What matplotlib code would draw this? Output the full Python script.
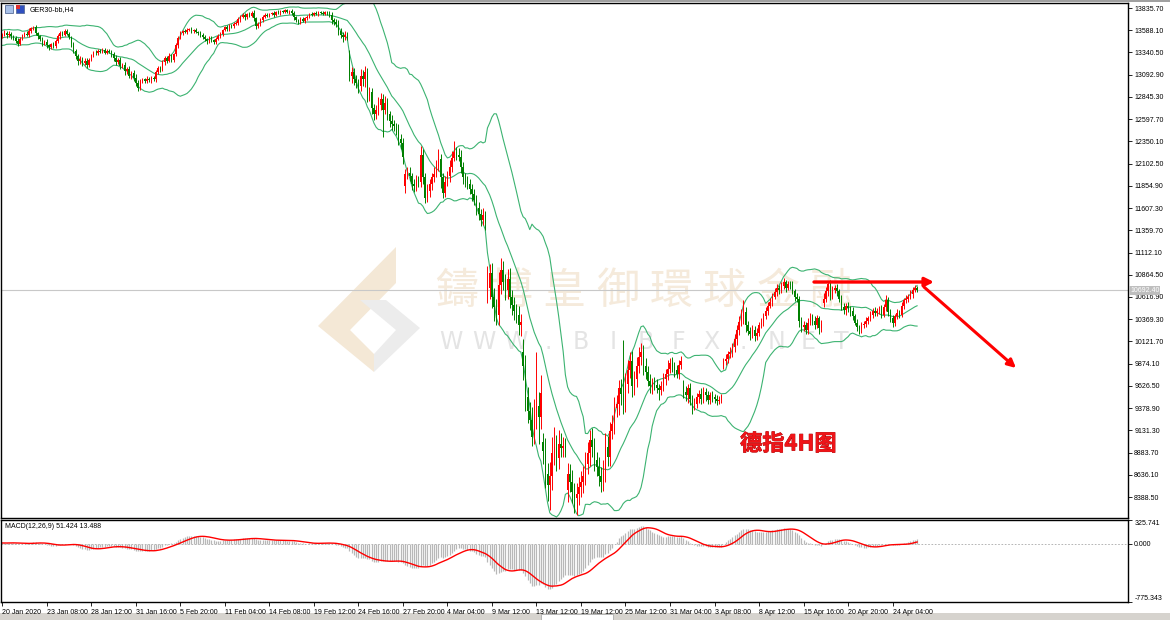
import numpy as np
import matplotlib
matplotlib.use("Agg")
import matplotlib.pyplot as plt
from matplotlib.patches import Polygon, Rectangle
import matplotlib.patheffects as pe

plt.rcParams['font.family'] = ['Liberation Sans', 'DejaVu Sans']

# ---- données (GER30, H4) ----
# historique avant le 20 janv. (sert seulement au calcul des indicateurs)
pre_close = [13400, 13450, 13380, 13420, 13480, 13520, 13470, 13440, 13500, 13560,
             13530, 13480, 13510, 13550, 13590, 13540, 13500, 13460, 13420, 13450,
             13490, 13530, 13510, 13480, 13520]

closes = [
    13540, 13560, 13530, 13550, 13520, 13500, 13470, 13440, 13490, 13530,
    13550, 13540, 13580, 13610, 13620, 13560, 13520, 13490, 13440, 13460,
    13420, 13400, 13430, 13410, 13470, 13520, 13560, 13540, 13580, 13550,
    13510, 13430, 13360, 13300, 13240, 13270, 13220, 13250, 13200, 13260,
    13310, 13340, 13330, 13360, 13350, 13370, 13340, 13360, 13350, 13320,
    13280, 13230, 13260, 13190, 13200, 13130, 13160, 13080, 13110, 13060,
    13000, 12950, 13020, 13040, 13020, 13050, 13030, 13060, 13040, 13120,
    13170, 13150, 13230, 13280, 13250, 13300, 13260, 13320, 13420, 13500,
    13560, 13580, 13570, 13590, 13600, 13580, 13590, 13570, 13560, 13540,
    13510, 13490, 13470, 13500, 13480, 13460, 13490, 13520, 13550, 13590,
    13620, 13600, 13640, 13630, 13660, 13670, 13710, 13740, 13760, 13730,
    13770, 13750, 13780, 13720, 13640, 13660, 13700, 13740, 13760, 13750,
    13770, 13780, 13760, 13790, 13780, 13800, 13790, 13810, 13790, 13800,
    13780, 13730, 13700, 13680, 13710, 13690, 13720, 13740, 13770, 13760,
    13780, 13770, 13790, 13780, 13770, 13790, 13780, 13760, 13700, 13680,
    13660, 13580, 13540, 13510, 13540, 13520, 13080, 13120, 13050, 13000,
    12970, 13080, 13040, 13120, 12850, 12900, 12720, 12650, 12700, 12760,
    12820, 12700, 12780, 12650, 12580, 12540, 12520, 12480, 12380, 12330,
    12180, 11990, 12000, 11960, 11880, 11850, 11920, 11900, 12200, 11950,
    11720, 11800, 11870, 11950, 11990, 12080, 12150, 11950, 11780, 11900,
    11960, 12060, 12170, 12230, 12200, 12180, 12060, 11950, 11900, 11870,
    11820, 11760, 11700, 11610, 11540, 11480, 11530, 11440, 10720, 10880,
    10620, 10500, 10420, 10750, 10920, 10780, 10700, 10820, 10620, 10530,
    10460, 10420, 10300, 10340, 9850, 9500, 9350, 9250, 9060, 9300,
    9400, 9280, 9550, 8900, 8650, 8520, 8620, 8880, 8950, 8820,
    8980, 8940, 8960, 8930, 8650, 8560, 8450, 8380, 8420, 8500,
    8560, 8620, 8760, 8880, 9020, 8950, 8800, 8720, 8620, 8560,
    8680, 8950, 8840, 9120, 9200, 9380, 9420, 9600, 9540, 9450,
    9650, 9800, 9900, 9620, 9700, 9850, 9950, 10000, 9850, 9780,
    9680, 9620, 9660, 9640, 9600, 9580, 9620, 9700, 9760, 9820,
    9880, 9840, 9800, 9760, 9860, 9900, 9560, 9520, 9600, 9480,
    9420, 9430, 9500, 9540, 9480, 9560, 9520, 9470, 9520, 9500,
    9480, 9460, 9470, 9510, 9900, 9930, 9980, 10000, 10060, 10150,
    10250, 10340, 10400, 10450, 10300, 10240, 10200, 10250, 10180, 10220,
    10300, 10330, 10400, 10460, 10520, 10560, 10620, 10670, 10720, 10700,
    10740, 10780, 10720, 10760, 10750, 10680, 10620, 10600, 10350, 10280,
    10300, 10250, 10330, 10400, 10350, 10300, 10380, 10270, 10320, 10600,
    10680, 10760, 10620, 10700, 10720, 10680, 10600, 10500, 10470, 10520,
    10490, 10460, 10400, 10330, 10280, 10260, 10300, 10320, 10350, 10380,
    10420, 10460, 10440, 10460, 10480, 10420, 10500, 10580, 10450, 10380,
    10330, 10400, 10440, 10420, 10520, 10580, 10600, 10620, 10650, 10700,
    10720, 10692.4,
]

# ouvertures qui ne reprennent pas la clôture précédente (gaps)
gap_opens = {156: 13330, 181: 11850, 218: 10700, 234: 10000, 243: 9000,
             254: 8470, 306: 9620, 324: 9870, 369: 10550}

up_wick = [
    20, 30, 15, 25, 20, 10, 20, 30, 25, 15,
    20, 25, 30, 15, 20, 30, 10, 20, 25, 15,
    30, 20, 15, 25, 20, 30, 20, 15, 25, 20,
    20, 15, 30, 20, 25, 35, 20, 30, 25, 20,
    15, 20, 25, 20, 15, 20, 25, 15, 20, 15,
    25, 30, 20, 35, 25, 30, 20, 35, 25, 30,
    40, 30, 25, 20, 15, 25, 20, 15, 20, 30,
    25, 20, 30, 25, 20, 30, 25, 20, 30, 25,
    20, 15, 20, 25, 15, 20, 15, 20, 15, 20,
    20, 25, 15, 20, 25, 15, 20, 25, 20, 15,
    20, 25, 15, 20, 15, 20, 25, 20, 15, 20,
    15, 20, 25, 30, 20, 25, 20, 15, 20, 15,
    15, 10, 20, 15, 20, 10, 15, 10, 20, 15,
    20, 25, 20, 15, 20, 25, 15, 20, 15, 20,
    15, 20, 10, 15, 20, 10, 15, 20, 30, 25,
    30, 40, 35, 30, 40, 30, 40, 60, 50, 40,
    50, 80, 60, 70, 50, 60, 40, 50, 60, 80,
    70, 60, 80, 50, 40, 60, 50, 40, 60, 50,
    60, 50, 70, 60, 40, 50, 60, 40, 100, 60,
    50, 70, 60, 50, 80, 60, 110, 60, 50, 70,
    60, 80, 70, 120, 60, 80, 70, 60, 50, 60,
    60, 50, 60, 50, 70, 60, 80, 50, 240, 100,
    120, 100, 90, 150, 130, 100, 90, 110, 120, 80,
    90, 80, 100, 90, 150, 120, 110, 100, 140, 180,
    600, 160, 200, 100, 150, 120, 160, 180, 220, 130,
    150, 120, 100, 90, 120, 110, 130, 100, 120, 110,
    120, 110, 130, 120, 110, 140, 100, 90, 110, 100,
    120, 150, 120, 110, 100, 120, 110, 90, 100, 600,
    120, 110, 100, 120, 90, 100, 110, 100, 80, 90,
    70, 80, 60, 70, 60, 50, 60, 70, 60, 100,
    60, 70, 50, 60, 50, 60, 70, 60, 50, 60,
    50, 60, 50, 40, 60, 50, 40, 50, 40, 50,
    40, 50, 40, 30, 40, 50, 40, 60, 50, 60,
    60, 70, 80, 130, 60, 50, 40, 50, 40, 50,
    40, 50, 40, 50, 40, 50, 40, 50, 40, 30,
    40, 50, 30, 40, 30, 40, 30, 40, 30, 40,
    50, 40, 50, 40, 30, 50, 40, 30, 40, 60,
    50, 40, 50, 40, 30, 40, 30, 40, 50, 30,
    40, 30, 40, 30, 40, 30, 40, 30, 40, 30,
    40, 30, 40, 30, 40, 50, 40, 60, 40, 30,
    40, 30, 40, 30, 40, 30, 40, 30, 40, 30,
    30, 20,
]

dn_wick = [
    20, 15, 25, 20, 30, 20, 25, 30, 20, 15,
    15, 20, 25, 20, 15, 25, 30, 20, 25, 20,
    25, 30, 20, 25, 15, 20, 25, 20, 15, 20,
    20, 25, 20, 30, 35, 25, 30, 20, 35, 25,
    20, 15, 20, 15, 20, 15, 20, 15, 20, 25,
    30, 25, 20, 30, 25, 35, 30, 25, 30, 35,
    30, 40, 30, 25, 20, 25, 20, 25, 20, 25,
    20, 25, 20, 30, 25, 20, 30, 25, 20, 30,
    15, 20, 15, 20, 15, 20, 25, 15, 20, 25,
    25, 20, 30, 20, 25, 30, 20, 15, 20, 25,
    15, 20, 25, 15, 20, 15, 20, 25, 20, 30,
    20, 15, 20, 30, 40, 25, 20, 15, 20, 15,
    10, 15, 20, 15, 10, 20, 15, 10, 15, 20,
    25, 30, 20, 25, 20, 15, 20, 15, 20, 15,
    15, 10, 20, 15, 10, 15, 20, 25, 40, 30,
    40, 50, 40, 50, 30, 40, 60, 80, 70, 60,
    80, 60, 70, 80, 60, 50, 70, 60, 50, 60,
    60, 300, 50, 60, 70, 60, 50, 60, 70, 60,
    80, 70, 60, 50, 70, 60, 50, 60, 60, 80,
    60, 50, 70, 60, 50, 40, 60, 120, 60, 50,
    50, 60, 50, 40, 60, 50, 60, 70, 60, 50,
    60, 70, 60, 80, 60, 70, 60, 80, 150, 120,
    130, 150, 120, 110, 100, 90, 120, 100, 130, 110,
    100, 90, 110, 120, 160, 150, 140, 120, 100, 80,
    150, 300, 130, 140, 160, 170, 280, 150, 130, 140,
    120, 110, 100, 90, 140, 120, 130, 170, 190, 120,
    110, 130, 100, 120, 140, 110, 120, 100, 110, 120,
    100, 120, 110, 100, 90, 110, 100, 120, 130, 140,
    110, 100, 90, 120, 100, 90, 80, 90, 100, 80,
    60, 70, 80, 60, 50, 110, 60, 50, 60, 70,
    50, 60, 70, 50, 60, 50, 70, 60, 80, 70,
    110, 60, 50, 60, 50, 40, 60, 50, 40, 50,
    40, 50, 40, 30, 60, 40, 50, 40, 50, 60,
    70, 60, 50, 80, 70, 50, 60, 40, 50, 40,
    40, 30, 40, 30, 40, 30, 40, 30, 40, 50,
    40, 30, 50, 30, 40, 30, 50, 40, 70, 50,
    40, 50, 40, 30, 50, 40, 30, 60, 40, 50,
    40, 50, 40, 30, 40, 50, 40, 30, 40, 50,
    40, 50, 40, 30, 40, 60, 40, 30, 40, 30,
    30, 40, 30, 40, 30, 40, 30, 40, 50, 40,
    50, 40, 30, 40, 30, 40, 30, 40, 30, 40,
    30, 20,
]

date_labels = ['20 Jan 2020', '23 Jan 08:00', '28 Jan 12:00', '31 Jan 16:00', '5 Feb 20:00',
               '11 Feb 04:00', '14 Feb 08:00', '19 Feb 12:00', '24 Feb 16:00', '27 Feb 20:00',
               '4 Mar 04:00', '9 Mar 12:00', '13 Mar 12:00', '19 Mar 12:00', '25 Mar 12:00',
               '31 Mar 04:00', '3 Apr 08:00', '8 Apr 12:00', '15 Apr 16:00', '20 Apr 20:00',
               '24 Apr 04:00']
price_ticks = [13835.70 - 247.6 * k for k in range(23)]
bid = 10692.40
macd_range = (-775.343, 325.741)
watermark_cn = "鑄博皇御環球金融"
watermark_en = "WWW.BIBFX.NET"

# ---- calculs ----
close = np.array(closes, dtype=float)
n = len(close)
open_ = np.r_[pre_close[-1], close[:-1]]
for i, o in gap_opens.items():
    open_[i] = o
high = np.maximum(open_, close) + np.array(up_wick)
low = np.minimum(open_, close) - np.array(dn_wick)

full = np.r_[pre_close, close]
npre = len(pre_close)
mid = np.array([full[max(0, k - 19):k + 1].mean() for k in range(len(full))])
sd = np.array([full[max(0, k - 19):k + 1].std() for k in range(len(full))])
bb_mid, bb_up, bb_dn = mid[npre:], (mid + 2 * sd)[npre:], (mid - 2 * sd)[npre:]


def ema(v, p):
    out = np.empty_like(v)
    a = 2.0 / (p + 1)
    out[0] = v[0]
    for k in range(1, len(v)):
        out[k] = a * v[k] + (1 - a) * out[k - 1]
    return out


macd_full = ema(full, 12) - ema(full, 26)
sig_full = np.array([macd_full[max(0, k - 8):k + 1].mean() for k in range(len(full))])
macd, signal = macd_full[npre:], sig_full[npre:]

# ---- figure ----
W, H = 1170, 620
fig = plt.figure(figsize=(11.7, 6.2), dpi=100)
fig.patch.set_facecolor('white')


def rect(x0, y0, x1, y1):
    return [x0 / W, 1 - y1 / H, (x1 - x0) / W, (y1 - y0) / H]


bg = fig.add_axes([0, 0, 1, 1], zorder=0)
bg.set_xlim(0, W); bg.set_ylim(H, 0); bg.axis('off')

# filigrane
bg.add_patch(Polygon([(396, 247), (396, 283), (350, 330), (374, 354), (374, 372), (318, 326)],
                     closed=True, fc='#F4E8D6', ec='none'))
bg.add_patch(Polygon([(360, 300), (386, 300), (420, 328), (374, 372), (374, 354), (396, 330)],
                     closed=True, fc='#ECECEC', ec='none'))
for k, ch in enumerate(watermark_cn):
    bg.text(457 + 53.5 * k, 292, ch, fontsize=31, color='#F5EADB', ha='center', va='center',
            family=['Noto Sans CJK TC'])
for k, ch in enumerate(watermark_en):
    bg.text(451 + 32.5 * k, 342, ch, fontsize=17, color='#E4E4E4', ha='center', va='center',
            family=['DejaVu Sans'])

# cadre de fenêtre
bg.add_patch(Rectangle((0, 0), W, 2, fc='#A0A0A0', ec='none'))
bg.add_patch(Rectangle((0, 613), W, 7, fc='#D6D3CE', ec='none'))
bg.add_patch(Rectangle((541, 614), 72, 6, fc='white', ec='#A0A0A0', lw=0.5))

x = np.arange(n)
xl = (-(2.2 - 1) / 2.226, (1128 - 2.2) / 2.226)

ax = fig.add_axes(rect(1, 3, 1128, 518), zorder=1)
ax.patch.set_alpha(0)
ax.set_xlim(*xl)
ax.set_ylim(8155.3, 13891.4)

ax.axhline(bid, color='#C8C8C8', lw=0.8, zorder=1)
bb_col = '#3CB371'
for band in (bb_up, bb_mid, bb_dn):
    ax.plot(x, band, color=bb_col, lw=0.8, zorder=2)

cols = np.where(close >= open_, '#FF0000', '#008000')
ax.vlines(x, low, high, colors=cols, lw=0.7, zorder=3)
body_lo = np.minimum(open_, close)
body_h = np.maximum(np.abs(close - open_), 8)
ax.bar(x, body_h, bottom=body_lo, width=0.62, color=cols, lw=0, zorder=4)

ax.yaxis.tick_right()
ax.set_yticks(price_ticks)
ax.set_yticklabels([f"{v:.2f}" for v in price_ticks])
ax.tick_params(axis='y', direction='out', length=3, width=0.6, labelsize=5, pad=1.5)
ax.set_xticks([])
for s in ax.spines.values():
    s.set_linewidth(1.0)
ax.text(1.0 + 2 / 1127, bid, f"{bid:.2f}", transform=ax.get_yaxis_transform(), fontsize=5,
        color='white', va='center', ha='left',
        bbox=dict(boxstyle='square,pad=0.15', fc='#BEBEBE', ec='none'))

# MACD
axm = fig.add_axes(rect(1, 520, 1128, 602), zorder=1)
axm.set_xlim(*xl)
axm.set_ylim(*macd_range)
axm.axhline(0, color='#A8A8A8', lw=0.6, ls=(0, (2, 2)))
axm.vlines(x, 0, macd, colors='#B8B8B8', lw=0.9)
axm.plot(x, signal, color='#FF0000', lw=1.0)
axm.yaxis.tick_right()
axm.set_yticks([macd_range[1], 0, macd_range[0]])
axm.set_yticklabels(['325.741', '0.000', '-775.343'])
for lbl, va in zip(axm.get_yticklabels(), ['top', 'center', 'bottom']):
    lbl.set_va(va)
axm.tick_params(axis='y', direction='out', length=3, width=0.6, labelsize=5, pad=1.5)
axm.set_xticks(np.arange(0, 20 * len(date_labels), 20))
axm.set_xticklabels(date_labels, ha='left')
axm.tick_params(axis='x', direction='out', length=3, width=0.6, labelsize=5, pad=2)
for s in axm.spines.values():
    s.set_linewidth(1.0)

# annotations au premier plan
fg = fig.add_axes([0, 0, 1, 1], zorder=3)
fg.set_xlim(0, W); fg.set_ylim(H, 0); fg.axis('off'); fg.patch.set_alpha(0)
fg.add_patch(Rectangle((5, 5), 8, 8, fc='#A8C0E8', ec='#5A6E9A', lw=0.6))
fg.add_patch(Rectangle((16, 5), 8, 8, fc='#3050C0', ec='#5A6E9A', lw=0.6))
fg.add_patch(Rectangle((16, 5), 4, 4, fc='#E03030', ec='none'))
fg.text(30, 9.5, 'GER30-bb,H4', fontsize=5, va='center', ha='left')
fg.text(5, 526, 'MACD(12,26,9) 51.424 13.488', fontsize=5, va='center', ha='left')

fg.annotate('', xy=(934, 282), xytext=(814, 282),
            arrowprops=dict(arrowstyle='-|>', color='#FF0000', lw=2.4, mutation_scale=13,
                            shrinkA=0, shrinkB=0))
fg.annotate('', xy=(1016, 368), xytext=(924, 287),
            arrowprops=dict(arrowstyle='-|>', color='#FF0000', lw=2.2, mutation_scale=12,
                            shrinkA=0, shrinkB=0))
fg.text(740, 444, '德指4H图', fontsize=16, fontweight='bold', color='#F01418', ha='left',
        va='center', family=['Noto Sans CJK SC', 'DejaVu Sans'],
        path_effects=[pe.withStroke(linewidth=0.5, foreground='#A00000')])

fig.savefig('out.png', dpi=100)
